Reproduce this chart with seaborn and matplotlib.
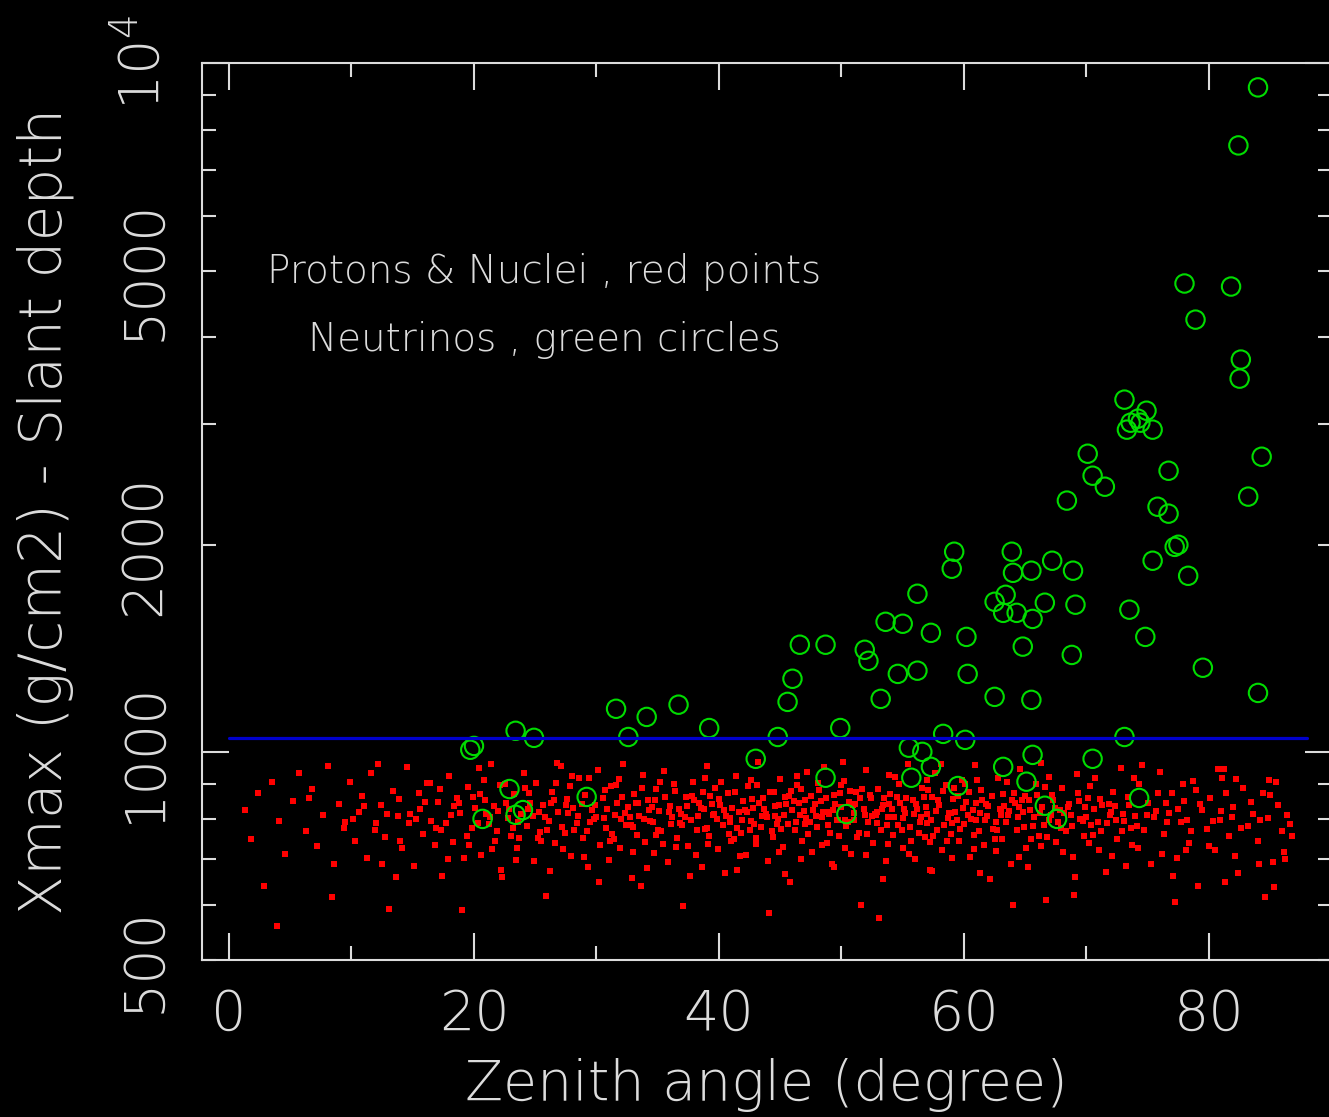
import matplotlib
matplotlib.use("Agg")
import matplotlib.pyplot as plt
import matplotlib.ticker as mticker
import pandas as pd
import seaborn as sns

# neutrino events (green circles): zenith angle (deg), Xmax - slant depth (g/cm2)
nu_zenith = [19.7, 20.0, 23.4, 24.9, 22.9, 20.7, 23.4, 24.0, 29.2, 31.6,
             34.1, 32.6, 36.7, 39.2, 43.0, 44.8, 45.6, 46.0, 46.6, 48.7,
             48.7, 49.9, 50.4, 51.9, 52.2, 53.2, 53.6, 55.0, 54.6, 56.2,
             56.2, 55.5, 56.6, 55.7, 57.3, 57.3, 58.3, 59.2, 59.0, 59.5,
             60.1, 60.2, 60.3, 62.5, 62.5, 63.4, 63.2, 63.2, 63.9, 64.0,
             64.3, 64.8, 65.1, 65.5, 65.5, 65.6, 65.6, 66.6, 66.6, 67.2,
             67.6, 68.4, 68.8, 68.9, 69.1, 70.1, 70.5, 70.5, 71.5, 73.1,
             73.1, 73.3, 73.6, 74.2, 74.4, 74.9, 75.4, 74.3, 74.8, 73.5,
             75.4, 75.8, 76.7, 76.7, 77.2, 77.5, 78.0, 78.3, 78.9, 79.5,
             81.8, 82.4, 82.5, 82.6, 83.2, 84.0, 84.0, 84.3]
nu_depth = [1009, 1022, 1075, 1050, 885, 801, 812, 825, 862, 1157,
            1126, 1053, 1173, 1085, 979, 1053, 1184, 1279, 1433, 1433,
            919, 1085, 814, 1409, 1358, 1196, 1547, 1537, 1300, 1314,
            1699, 1016, 1002, 919, 953, 1491, 1064, 1955, 1847, 894,
            1043, 1471, 1300, 1204, 1654, 1693, 1594, 953, 1955, 1822,
            1594, 1424, 907, 1835, 1192, 992, 1562, 1649, 837, 1897,
            801, 2319, 1385, 1835, 1638, 2712, 2520, 979, 2429, 1053,
            3249, 2939, 3008, 3049, 3008, 3131, 2939, 859, 1471, 1611,
            1897, 2272, 2562, 2220, 1987, 2001, 4788, 1804, 4244, 1327,
            4740, 7594, 3485, 3714, 2350, 9218, 1220, 2685]

# protons & nuclei (red points)
red_zenith = [
    1.3, 1.8, 2.4, 2.9, 3.5, 4.1, 4.6, 5.2, 5.7, 6.3,
    6.8, 7.2, 7.7, 8.1, 8.6, 9.0, 9.4, 9.9, 10.3, 10.6,
    10.9, 11.3, 11.6, 12.0, 12.4, 12.7, 13.1, 13.4, 13.8, 14.1,
    14.5, 14.8, 15.1, 15.5, 15.8, 16.2, 16.5, 16.8, 17.1, 17.4,
    17.7, 18.0, 18.3, 18.6, 18.9, 19.2, 19.5, 19.8, 20.1, 20.4,
    20.6, 20.9, 21.2, 21.4, 21.7, 22.0, 22.2, 22.5, 22.8, 23.0,
    23.3, 23.5, 23.8, 24.1, 24.3, 24.6, 24.9, 25.1, 25.4, 25.6,
    25.9, 26.1, 26.4, 26.6, 26.9, 27.1, 27.4, 27.6, 27.9, 28.1,
    28.4, 28.6, 28.9, 29.1, 29.3, 29.6, 29.8, 30.1, 30.3, 30.5,
    30.8, 31.0, 31.2, 31.5, 31.7, 31.9, 32.2, 32.4, 32.6, 32.9,
    33.1, 33.3, 33.5, 33.8, 34.0, 34.2, 34.4, 34.7, 34.9, 35.1,
    35.3, 35.5, 35.8, 36.0, 36.2, 36.4, 36.6, 36.9, 37.1, 37.3,
    37.5, 37.7, 37.9, 38.2, 38.4, 38.6, 38.8, 39.0, 39.2, 39.5,
    39.7, 39.9, 40.1, 40.3, 40.5, 40.7, 40.9, 41.2, 41.4, 41.6,
    41.8, 42.0, 42.2, 42.4, 42.6, 42.8, 43.0, 43.2, 43.4, 43.6,
    43.8, 44.0, 44.2, 44.4, 44.6, 44.8, 45.0, 45.2, 45.4, 45.6,
    45.8, 46.0, 46.2, 46.4, 46.6, 46.8, 47.0, 47.2, 47.4, 47.6,
    47.8, 48.0, 48.2, 48.4, 48.6, 48.8, 49.0, 49.2, 49.4, 49.6,
    49.8, 50.0, 50.2, 50.4, 50.6, 50.8, 51.0, 51.2, 51.4, 51.6,
    51.8, 52.0, 52.2, 52.4, 52.6, 52.8, 53.0, 53.2, 53.4, 53.6,
    53.8, 54.0, 54.2, 54.4, 54.6, 54.8, 55.0, 55.2, 55.4, 55.6,
    55.8, 56.0, 56.2, 56.4, 56.6, 56.8, 57.0, 57.2, 57.4, 57.6,
    57.8, 58.0, 58.2, 58.5, 58.7, 58.9, 59.1, 59.3, 59.6, 59.8,
    60.0, 60.2, 60.5, 60.7, 60.9, 61.2, 61.4, 61.6, 61.9, 62.1,
    62.3, 62.6, 62.8, 63.1, 63.3, 63.6, 63.8, 64.1, 64.3, 64.6,
    64.8, 65.1, 65.3, 65.6, 65.9, 66.1, 66.4, 66.7, 66.9, 67.2,
    67.5, 67.8, 68.0, 68.3, 68.6, 68.9, 69.2, 69.5, 69.8, 70.1,
    70.4, 70.7, 71.0, 71.3, 71.6, 71.9, 72.2, 72.5, 72.8, 73.1,
    73.4, 73.7, 74.0, 74.3, 74.7, 75.0, 75.3, 75.7, 76.0, 76.3,
    76.7, 77.0, 77.4, 77.7, 78.0, 78.4, 78.7, 79.1, 79.4, 79.8,
    80.1, 80.5, 80.9, 81.2, 81.6, 82.0, 82.4, 82.8, 83.2, 83.6,
    84.0, 84.4, 84.8, 85.2, 85.6, 86.0, 86.4, 86.8, 82.2, 78.9,
    15.3, 16.9, 18.4, 19.9, 21.0, 21.9, 22.6, 23.6, 24.4, 25.2,
    25.8, 26.5, 27.2, 27.8, 28.5, 29.2, 29.9, 30.6, 31.3, 31.8,
    32.3, 32.8, 33.4, 33.9, 34.5, 35.0, 35.6, 36.1, 36.7, 37.2,
    37.8, 38.3, 38.9, 39.4, 39.8, 40.4, 40.8, 41.3, 41.9, 42.3,
    42.9, 43.3, 43.9, 44.3, 44.9, 45.3, 45.9, 46.3, 46.9, 47.3,
    47.9, 48.3, 48.9, 49.3, 49.9, 50.3, 50.9, 51.3, 51.9, 52.3,
    52.9, 53.3, 53.9, 54.3, 54.9, 55.3, 55.9, 56.3, 56.9, 57.3,
    57.9, 58.4, 58.8, 59.4, 59.9, 60.4, 60.8, 61.3, 61.8, 62.4,
    62.9, 63.4, 63.9, 64.4, 64.9, 65.4, 66.0, 66.5, 67.1, 67.7,
    68.2, 68.8, 69.4, 70.0, 70.6, 71.2, 71.8, 72.4, 73.0, 73.6,
    3.9, 8.4, 12.2, 13.6, 19.0, 26.8, 33.6, 44.1, 50.1, 53.1,
    58.1, 64.0, 66.3, 69.0, 74.5, 77.2, 80.7, 84.6, 86.2, 85.5,
    20.3, 21.6, 23.2, 24.8, 26.3, 27.7, 29.5, 30.9, 32.0, 33.2,
    34.6, 35.9, 37.0, 38.5, 39.6, 40.9, 42.1, 43.5, 44.7, 46.1,
    47.1, 48.5, 49.7, 51.1, 52.5, 53.7, 55.1, 56.5, 57.7, 59.0,
    60.3, 61.7, 63.0, 64.2, 65.7, 67.4, 69.7, 72.0, 75.5, 78.2,
    40.0, 41.0, 42.5, 45.5, 47.5, 49.1, 50.7, 52.7, 54.5, 56.1,
    57.5, 59.5, 61.0, 62.7, 64.7, 66.8, 68.5, 70.9, 76.5, 81.9,
    10.1, 11.0, 11.9, 12.9, 13.9, 14.7, 15.6, 16.4, 17.3, 18.1,
    18.8, 19.6, 20.5, 21.3, 22.1, 22.9, 23.7, 24.5, 25.3, 26.0,
    26.7, 27.5, 28.2, 28.8, 29.4, 30.0, 30.7, 31.4, 32.1, 32.7,
    33.0, 33.7, 34.3, 34.8, 35.4, 36.3, 36.8, 37.4, 38.0, 38.7,
    39.1, 39.3, 40.2, 40.6, 41.1, 41.5, 42.7, 43.1, 43.7, 44.5,
    45.1, 45.7, 46.5, 46.7, 47.7, 48.1, 48.7, 49.5, 50.5, 51.5,
    51.7, 52.1, 53.5, 54.1, 54.7, 55.7, 56.7, 57.1, 58.3, 58.6,
    59.2, 59.7, 60.6, 61.1, 61.5, 62.0, 62.5, 63.2, 63.7, 64.5,
    65.0, 65.5, 66.2, 66.6, 67.3, 67.9, 68.7, 69.3, 69.9, 70.5,
    71.1, 71.7, 72.3, 72.9, 73.5, 74.1, 74.9, 75.8, 76.6, 77.5,
    78.5, 79.3, 80.3, 81.0, 81.4, 82.6, 83.4, 84.2, 85.0, 86.6,
    14.0, 16.0, 17.9, 19.4, 21.5, 23.4, 25.5, 27.3, 29.0, 31.1,
    33.0, 34.9, 36.5, 38.1, 39.0, 41.7, 43.0, 44.9, 46.7, 48.4,
    50.3, 52.0, 53.8, 55.5, 57.2, 59.0, 60.8, 62.6, 64.5, 66.3,
    68.1, 70.2, 72.1, 74.2, 76.2, 78.1, 80.0, 82.1, 84.1, 86.1,
    17.2, 20.8, 24.2, 28.0, 31.6, 35.2, 38.9, 42.6, 46.4, 50.0,
    53.9, 57.0, 60.1, 63.5, 66.9, 70.3, 73.9, 77.9, 81.1, 84.9,
    22.3, 26.2, 30.2, 34.1, 37.6, 41.5, 45.4, 49.4, 53.4, 57.4,
    61.3, 65.2, 69.1, 73.2, 77.1, 81.3, 85.3, 12.5, 9.5, 6.5,
    44.6, 47.0, 49.0, 51.0, 52.9, 55.0, 57.0, 58.9, 61.0, 63.0,
]
red_depth = [
    826, 748, 872, 640, 905, 795, 712, 850, 934, 768,
    884, 731, 812, 955, 688, 842, 776, 905, 743, 821,
    866, 702, 934, 790, 838, 755, 592, 880, 810, 727,
    952, 815, 684, 872, 761, 903, 796, 735, 848, 663,
    789, 925, 742, 858, 817, 703, 891, 776, 830, 948,
    711, 852, 788, 961, 744, 822, 676, 899, 803, 757,
    869, 728, 814, 935, 781, 846, 695, 902, 767, 838,
    620, 795, 877, 740, 819, 956, 763, 855, 708, 832,
    789, 918, 752, 867, 683, 826, 801, 944, 735, 860,
    776, 698, 893, 812, 845, 727, 962, 785, 834, 658,
    871, 759, 808, 926, 742, 853, 796, 715, 885, 823,
    768, 941, 694, 837, 805, 878, 751, 815, 599, 862,
    732, 798, 907, 771, 846, 683, 828, 955, 757, 812,
    889, 724, 840, 786, 668, 872, 803, 748, 925, 819,
    764, 851, 709, 893, 796, 832, 737, 968, 780, 858,
    815, 696, 876, 754, 837, 802, 915, 729, 863, 788,
    649, 825, 772, 898, 811, 745, 854, 936, 793, 717,
    842, 779, 883, 806, 952, 738, 821, 690, 867, 797,
    756, 834, 909, 781, 848, 712, 816, 876, 765, 601,
    827, 943, 793, 859, 740, 812, 884, 773, 838, 697,
    805, 871, 759, 922, 786, 845, 728, 817, 963, 779,
    853, 701, 829, 794, 887, 753, 814, 676, 862, 935,
    771, 839, 722, 896, 803, 761, 857, 820, 744, 912,
    787, 848, 706, 826, 958, 768, 881, 734, 809, 655,
    864, 792, 917, 749, 836, 811, 688, 873, 771, 945,
    819, 726, 852, 783, 901, 757, 834, 610, 797, 868,
    741, 826, 889, 769, 843, 705, 932, 801, 757, 858,
    784, 917, 722, 839, 671, 812, 876, 748, 950, 795,
    861, 733, 808, 899, 772, 846, 689, 823, 937, 762,
    817, 874, 702, 792, 851, 739, 908, 640, 826, 774,
    858, 721, 799, 945, 756, 834, 668, 888, 783, 815,
    745, 872, 803, 693, 838, 770, 812, 756, 915, 882,
    802, 778, 835, 862, 813, 769, 844, 793, 827, 751,
    807, 853, 779, 894, 810, 770, 838, 803, 762, 916,
    818, 786, 846, 801, 834, 772, 861, 787, 829, 805,
    866, 809, 774, 843, 800, 825, 761, 877, 799, 820,
    787, 845, 806, 768, 839, 812, 879, 794, 823, 761,
    808, 851, 784, 826, 872, 797, 839, 753, 812, 868,
    790, 827, 843, 806, 771, 858, 815, 764, 833, 798,
    852, 784, 817, 797, 830, 876, 758, 818, 843, 775,
    829, 793, 854, 806, 779, 825, 867, 786, 812, 793,
    818, 781, 851, 806, 829, 768, 843, 797, 814, 776,
    560, 618, 961, 660, 590, 964, 640, 585, 968, 575,
    962, 600, 965, 622, 958, 606, 946, 618, 700, 905,
    790, 835, 778, 808, 846, 816, 793, 828, 801, 845,
    794, 819, 786, 832, 815, 792, 826, 808, 788, 851,
    804, 820, 799, 841, 808, 784, 829, 806, 822, 790,
    812, 797, 826, 844, 806, 830, 795, 820, 806, 797,
    855, 744, 772, 842, 866, 765, 880, 815, 861, 842,
    756, 866, 844, 771, 853, 755, 834, 793, 845, 806,
    802, 837, 771, 815, 856, 789, 828, 903, 771, 812,
    846, 734, 869, 806, 897, 829, 752, 873, 819, 772,
    902, 838, 771, 843, 918, 807, 881, 749, 861, 806,
    780, 888, 826, 853, 737, 899, 790, 836, 852, 876,
    737, 864, 906, 810, 831, 777, 856, 898, 827, 875,
    775, 864, 846, 886, 825, 902, 858, 843, 793, 860,
    885, 761, 858, 829, 899, 744, 861, 881, 879, 743,
    887, 775, 801, 912, 853, 836, 748, 870, 822, 833,
    865, 748, 818, 892, 854, 778, 812, 874, 833, 759,
    857, 791, 836, 769, 838, 781, 812, 873, 792, 829,
    768, 843, 796, 822, 872, 776, 847, 797, 868, 787,
    745, 848, 701, 756, 724, 698, 744, 724, 705, 745,
    716, 760, 729, 711, 776, 708, 752, 718, 701, 733,
    728, 709, 737, 712, 741, 703, 725, 719, 706, 731,
    717, 738, 707, 726, 713, 722, 731, 708, 690, 718,
    884, 912, 887, 925, 897, 905, 919, 912, 925, 898,
    928, 911, 899, 907, 922, 895, 917, 901, 918, 912,
    660, 672, 649, 680, 663, 676, 667, 682, 655, 673,
    668, 681, 659, 684, 662, 648, 639, 689, 793, 859,
    808, 788, 815, 799, 821, 803, 790, 818, 799, 812,
]

# horizontal cut line
cut_zenith = [0, 88]
cut_depth = [1050, 1050]

red_df = pd.DataFrame({"zenith": red_zenith, "depth": red_depth})
nu_df = pd.DataFrame({"zenith": nu_zenith, "depth": nu_depth})

fg = "#dcdcdc"
sns.set_theme(style="ticks", rc={"axes.facecolor": "black", "figure.facecolor": "black",
                                 "axes.edgecolor": fg, "text.color": fg,
                                 "xtick.color": fg, "ytick.color": fg, "axes.labelcolor": fg})
plt.rcParams["font.family"] = ["DejaVu Sans"]
plt.rcParams["font.weight"] = "light"
plt.rcParams["axes.labelweight"] = "light"

fig = plt.figure(figsize=(13.29, 11.17), dpi=100)
ax = fig.add_axes([202 / 1329, 1 - 960 / 1117, 1129.5 / 1329, 897 / 1117])

sns.scatterplot(data=red_df, x="zenith", y="depth", marker="s", s=25, color="#ff0000",
                linewidth=0, ax=ax, legend=False)
sns.scatterplot(data=nu_df, x="zenith", y="depth", marker="o", s=175, facecolor="none",
                edgecolor="#00dc00", linewidth=1.5, ax=ax, legend=False)
sns.lineplot(x=cut_zenith, y=cut_depth, color="#0000cc", linewidth=2.3, ax=ax)

ax.set_yscale("log")
ax.set_xlim(-2.2, 90)
ax.set_ylim(500, 10000)

ax.xaxis.set_major_locator(mticker.MultipleLocator(20))
ax.xaxis.set_minor_locator(mticker.MultipleLocator(10))
ax.yaxis.set_major_locator(mticker.FixedLocator([1000, 10000]))
ax.yaxis.set_minor_locator(mticker.FixedLocator([500, 600, 700, 800, 900, 2000, 3000, 4000,
                                                 5000, 6000, 7000, 8000, 9000]))
major_lbl = {1000: "1000", 10000: "$10^4$"}
minor_lbl = {500: "500", 2000: "2000", 5000: "5000"}
ax.yaxis.set_major_formatter(mticker.FuncFormatter(lambda v, p: major_lbl.get(int(round(v)), "")))
ax.yaxis.set_minor_formatter(mticker.FuncFormatter(lambda v, p: minor_lbl.get(int(round(v)), "")))

for s in ax.spines.values():
    s.set_color(fg)
    s.set_linewidth(1.5)

ax.tick_params(which="both", direction="in", top=True, right=True, width=1.5, colors=fg)
ax.tick_params(which="major", length=19.5)
ax.tick_params(which="minor", length=10)
ax.tick_params(axis="x", labelsize=40, pad=20)
ax.tick_params(axis="y", which="both", labelsize=40, pad=22, labelrotation=90)
for t in ax.yaxis.get_ticklabels(which="both"):
    t.set_verticalalignment("center")

ax.set_xlabel("Zenith angle (degree)", fontsize=40, fontweight="light")
ax.set_ylabel("Xmax (g/cm2) - Slant depth", fontsize=42, fontweight="light")
ax.xaxis.set_label_coords(0.5, -0.139)
ax.yaxis.set_label_coords(-0.139, 0.5)
ax.xaxis.label.set_va("center")
ax.yaxis.label.set_va("center")

ax.text(0.303, 0.767, "Protons & Nuclei , red points", transform=ax.transAxes,
        ha="center", va="center", fontsize=28, color=fg)
ax.text(0.303, 0.691, "Neutrinos , green circles", transform=ax.transAxes,
        ha="center", va="center", fontsize=28, color=fg)

fig.savefig("out.png", dpi=100, facecolor="black")
